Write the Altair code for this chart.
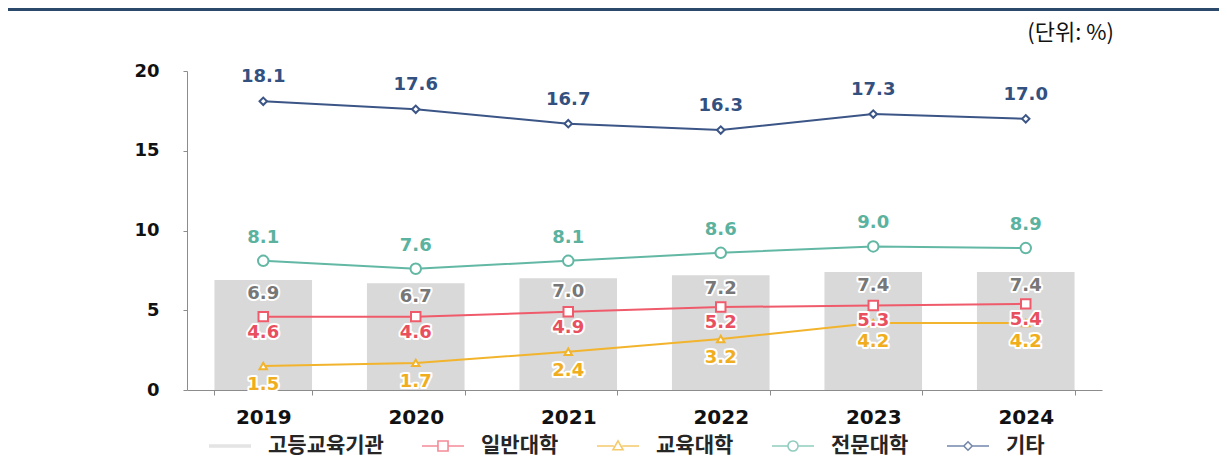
import altair as alt
import pandas as pd

# ---------------- data ----------------
YEARS = ["2019", "2020", "2021", "2022", "2023", "2024"]
HIGHER_ED = [6.9, 6.7, 7.0, 7.2, 7.4, 7.4]          # 고등교육기관 (bars)
GENERAL_UNIV = [4.6, 4.6, 4.9, 5.2, 5.3, 5.4]       # 일반대학
EDU_UNIV = [1.5, 1.7, 2.4, 3.2, 4.2, 4.2]           # 교육대학
JUNIOR_COLLEGE = [8.1, 7.6, 8.1, 8.6, 9.0, 8.9]     # 전문대학
OTHER = [18.1, 17.6, 16.7, 16.3, 17.3, 17.0]        # 기타
SERIES = ["고등교육기관", "일반대학", "교육대학", "전문대학", "기타"]
Y_TICKS = [0, 5, 10, 15, 20]
UNIT_TEXT = "(단위:  %)"

# ---------------- style ----------------
COLORS = ["#d9d9d9", "#ef5b6b", "#f2b42c", "#62b8a4", "#3b5586"]
LABEL_COLORS = {"일반대학": "#e9505f", "교육대학": "#f0ae1e", "전문대학": "#5bb29e", "기타": "#33507f"}
POINT_SHAPES = {"일반대학": ("square", 90), "교육대학": ("triangle-up", 55),
                "전문대학": ("circle", 110), "기타": ("diamond", 55)}
LABEL_DY = {"일반대학": 16, "교육대학": 19, "전문대학": -23, "기타": -24}
LEGEND_PATHS = [
    "M-1,-0.05L1,-0.05M-1,0L1,0M-1,0.05L1,0.05",
    "M-0.24,-0.24L0.24,-0.24L0.24,0.24L-0.24,0.24Z M-1,0L-0.24,0 M0.24,0L1,0",
    "M0,-0.24L0.24,0.18L-0.24,0.18Z M-1,0L-0.2,0 M0.2,0L1,0",
    "M0.24,0A0.24,0.24 0 1,1 -0.24,0A0.24,0.24 0 1,1 0.24,0Z M-1,0L-0.24,0 M0.24,0L1,0",
    "M0,-0.2L0.2,0L0,0.2L-0.2,0Z M-1,0L-0.2,0 M0.2,0L1,0",
]
W, H = 915, 319
NUM_FONT = "DejaVu Sans"
KR_FONT = "Noto Sans CJK KR"

bars_df = pd.DataFrame({"year": YEARS, "value": HIGHER_ED, "series": SERIES[0]})
line_values = {"일반대학": GENERAL_UNIV, "교육대학": EDU_UNIV, "전문대학": JUNIOR_COLLEGE, "기타": OTHER}
lines_df = pd.concat(
    [pd.DataFrame({"year": YEARS, "value": v, "series": k}) for k, v in line_values.items()],
    ignore_index=True,
)
legend_df = pd.DataFrame({"year": YEARS[:5], "value": [0] * 5, "series": SERIES})
unit_df = pd.DataFrame({"t": [UNIT_TEXT]})

x_enc = alt.X(
    "year:N", sort=YEARS, title=None,
    scale=alt.Scale(paddingInner=0.36, paddingOuter=0.18),
    axis=alt.Axis(labelAngle=0, grid=False, tickBand="extent", tickSize=5,
                  domainColor="#8c8c8c", tickColor="#8c8c8c",
                  labelFont=NUM_FONT, labelFontWeight="bold", labelFontSize=20,
                  labelColor="#111111", labelPadding=12),
)
y_enc = alt.Y(
    "value:Q", title=None,
    scale=alt.Scale(domain=[0, 20], nice=False),
    axis=alt.Axis(values=Y_TICKS, grid=False, domainColor="#8c8c8c", tickColor="#8c8c8c",
                  tickSize=4, labelFont=NUM_FONT, labelFontWeight="bold", labelFontSize=18,
                  labelColor="#111111", labelPadding=24),
)

layers = []

# top decorative rule
layers.append(
    alt.Chart(unit_df).mark_rule(color="#2b4a6b", strokeWidth=5).encode(
        x=alt.value(-190), x2=alt.value(W + 130), y=alt.value(-62.5)
    )
)
# unit text
layers.append(
    alt.Chart(unit_df).mark_text(align="right", baseline="middle", font=KR_FONT,
                                 fontSize=22, color="#111111").encode(
        x=alt.value(W + 12), y=alt.value(-38), text="t:N"
    )
)

# bars
layers.append(
    alt.Chart(bars_df).mark_bar(color=COLORS[0]).encode(x=x_enc, y=y_enc)
)

# lines (one layer per series)
for i, s in enumerate(SERIES[1:], start=1):
    layers.append(
        alt.Chart(lines_df).transform_filter(alt.datum.series == s).mark_line(
            strokeWidth=2, color=COLORS[i]
        ).encode(x=x_enc, y=y_enc)
    )

# points
for i, s in enumerate(SERIES[1:], start=1):
    shp, sz = POINT_SHAPES[s]
    layers.append(
        alt.Chart(lines_df).transform_filter(alt.datum.series == s).mark_point(
            shape=shp, size=sz, filled=True, fill="white", stroke=COLORS[i],
            strokeWidth=2, opacity=1,
        ).encode(x=x_enc, y=y_enc)
    )

# bar labels (halo + text)
for halo in (True, False):
    kw = dict(stroke="white", strokeWidth=4, strokeJoin="round", color="white") if halo else dict(color="#777777")
    layers.append(
        alt.Chart(bars_df).mark_text(dy=14, baseline="middle", font=NUM_FONT,
                                     fontWeight="bold", fontSize=18, **kw).encode(
            x=x_enc, y=y_enc, text=alt.Text("value:Q", format=".1f")
        )
    )

# line labels (halo + text)
for halo in (True, False):
    for s in SERIES[1:]:
        kw = dict(stroke="white", strokeWidth=4, strokeJoin="round", color="white") if halo else dict(color=LABEL_COLORS[s])
        layers.append(
            alt.Chart(lines_df).transform_filter(alt.datum.series == s).mark_text(
                dy=LABEL_DY[s], baseline="middle", font=NUM_FONT, fontWeight="bold",
                fontSize=18, **kw
            ).encode(x=x_enc, y=y_enc, text=alt.Text("value:Q", format=".1f"))
        )

# legend-only layer (no visible marks)
leg = alt.Legend(
    orient="none", legendX=21, legendY=353, direction="horizontal", title=None,
    symbolSize=1764, symbolStrokeWidth=1.6, labelFont=KR_FONT, labelFontWeight="bold",
    labelFontSize=21, labelColor="#262626", labelOffset=16, columnPadding=34, padding=0,
    labelLimit=300,
)
layers.append(
    alt.Chart(legend_df).transform_filter("false").mark_point(filled=False).encode(
        x=x_enc, y=y_enc,
        color=alt.Color("series:N", scale=alt.Scale(domain=SERIES, range=COLORS), legend=leg),
        shape=alt.Shape("series:N", scale=alt.Scale(domain=SERIES, range=LEGEND_PATHS), legend=leg),
    )
)

chart = alt.layer(*layers).properties(
    width=W, height=H,
    autosize=alt.AutoSizeParams(type="none"),
    padding={"left": 179, "top": 63, "right": 117, "bottom": 72},
).configure_view(stroke=None)

chart.save("out.html", embed_options={"renderer": "svg", "actions": False})
